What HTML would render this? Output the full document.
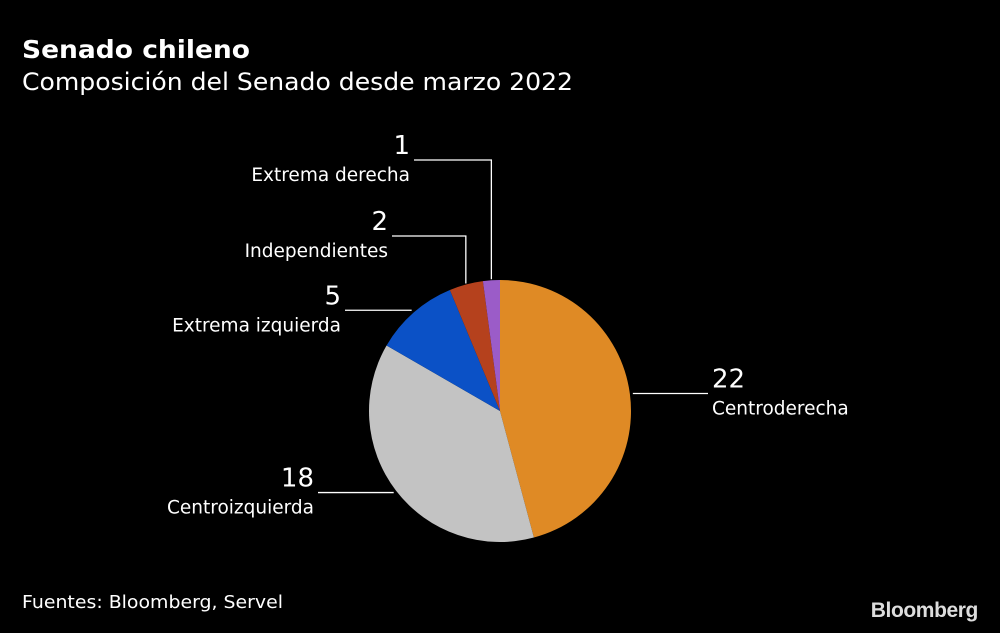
<!DOCTYPE html>
<html><head><meta charset="utf-8"><style>
body{margin:0;background:#000;width:1000px;height:629px;overflow:hidden;font-family:"DejaVu Sans","Liberation Sans",sans-serif;}
</style></head><body>
<svg width="1000" height="629">
<text x="22" y="58" fill="#fff" font-size="25" font-weight="bold" textLength="228" lengthAdjust="spacingAndGlyphs">Senado chileno</text>
<text x="22" y="90" fill="#fff" font-size="24" textLength="551" lengthAdjust="spacingAndGlyphs">Composición del Senado desde marzo 2022</text>
<g id="slices"></g>
<g id="labels"></g>
<text x="22" y="608" fill="#fff" font-size="18" textLength="261" lengthAdjust="spacingAndGlyphs">Fuentes: Bloomberg, Servel</text>
<text x="978" y="617" fill="#ddd" font-size="21" font-weight="bold" text-anchor="end" letter-spacing="-0.4" font-family="Liberation Sans">Bloomberg</text>
</svg>
<script>
const categories=["Centroderecha","Centroizquierda","Extrema izquierda","Independientes","Extrema derecha"];
const values=[22,18,5,2,1];
const colors=["#df8a25","#c3c3c3","#0b51c6","#b5411d","#9b5cc8"];
const cx=500,cy=411,r=131,ns="http://www.w3.org/2000/svg";
const total=values.reduce((a,b)=>a+b,0);
const gS=document.getElementById("slices"),gL=document.getElementById("labels");
function pt(a,rr){return [cx+rr*Math.sin(a),cy-rr*Math.cos(a)];}
const cfg=[{x2:708,side:1},{x2:318,side:-1},{x2:345,side:-1},{x2:392,side:-1,elbowY:236},{x2:414,side:-1,elbowY:160}];
let acc=0;
values.forEach((v,i)=>{
 const a0=acc/total*2*Math.PI;acc+=v;const a1=acc/total*2*Math.PI;
 const [x0,y0]=pt(a0,r),[x1,y1]=pt(a1,r);
 const p=document.createElementNS(ns,"path");
 p.setAttribute("d",`M${cx},${cy}L${x0},${y0}A${r},${r} 0 ${a1-a0>Math.PI?1:0} 1 ${x1},${y1}Z`);
 p.setAttribute("fill",colors[i]);
 
 
 gS.appendChild(p);
 const am=(a0+a1)/2,c=cfg[i];
 const [mx,my]=pt(am,r+3);
 let d,ly,lx=c.x2;
 if(c.elbowY!==undefined){const [ex,ey]=pt(am,r+1);d=`M${ex},${ey}V${c.elbowY}H${c.x2}`;ly=c.elbowY;}
 else{ly=my;d=`M${mx},${my}H${c.x2}`;}
 const l=document.createElementNS(ns,"path");
 l.setAttribute("d",d);l.setAttribute("stroke","#fff");l.setAttribute("fill","none");l.setAttribute("stroke-width","1.3");
 
 
 gL.appendChild(l);
 const anchor=c.side>0?"start":"end",tx=c.side>0?lx+4:lx-4;
 const t1=document.createElementNS(ns,"text");
 t1.setAttribute("x",tx);t1.setAttribute("y",ly-6);t1.setAttribute("fill","#fff");t1.setAttribute("font-size","26");t1.setAttribute("text-anchor",anchor);
 t1.textContent=v;
 
 
 gL.appendChild(t1);
 const t2=document.createElementNS(ns,"text");
 t2.setAttribute("x",tx);t2.setAttribute("y",ly+21);t2.setAttribute("fill","#fff");t2.setAttribute("font-size","18.5");t2.setAttribute("text-anchor",anchor);
 t2.textContent=categories[i];
 
 
 gL.appendChild(t2);
});
</script>
</body></html>
